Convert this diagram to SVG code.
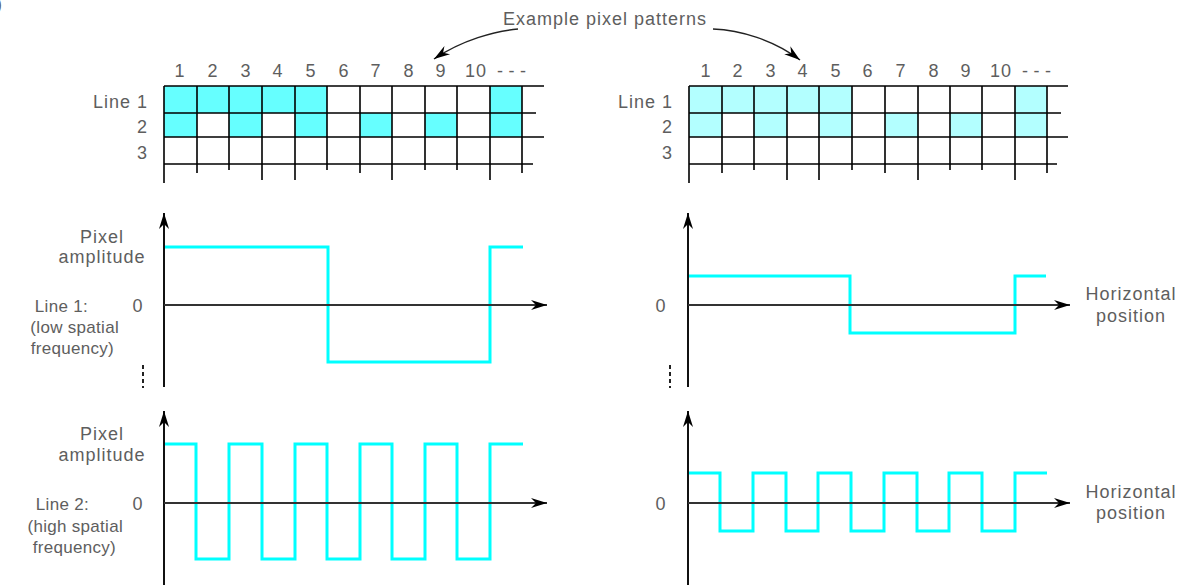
<svg xmlns="http://www.w3.org/2000/svg" width="1196" height="585" viewBox="0 0 1196 585">
<style>
text{font-family:"Liberation Sans",Arial,sans-serif;font-size:18px;fill:#5e5e5e;letter-spacing:1px}
.m{text-anchor:middle}
.e{text-anchor:end}
.s{font-size:17px;letter-spacing:0.3px}
.g{stroke:#000;stroke-width:1.6;fill:none}
.c1{fill:#66ffff}
.c2{fill:#b3ffff}
.ax{stroke:#333;stroke-width:1.8;fill:none}
.ay{stroke:#111;stroke-width:2;fill:none}
.sig{stroke:#00ffff;stroke-width:3;fill:none}
.dots{stroke:#222;stroke-width:2;stroke-dasharray:4 3;fill:none}
.lead{stroke:#222;stroke-width:1.5;fill:none}
</style>
<defs>
<marker id="ah" viewBox="-17 -6 18 12" markerWidth="18" markerHeight="12" refX="0" refY="0" orient="auto" markerUnits="userSpaceOnUse">
<path d="M0,0 L-16,-5 L-11,0 L-16,5 Z" fill="#000"/>
</marker>
</defs>
<rect width="1196" height="585" fill="#fff"/>
<text x="-4" y="10">)</text>

<g id="title">
<text x="503" y="25">Example pixel patterns</text>
</g>

<g id="grid-left">
<g>
<rect class="c1" x="164" y="86" width="163" height="27"/>
<rect class="c1" x="490" y="86" width="32" height="27"/>
<rect class="c1" x="164" y="113" width="33" height="24"/>
<rect class="c1" x="229" y="113" width="33" height="24"/>
<rect class="c1" x="295" y="113" width="32" height="24"/>
<rect class="c1" x="360" y="113" width="32" height="24"/>
<rect class="c1" x="425" y="113" width="32" height="24"/>
<rect class="c1" x="490" y="113" width="32" height="24"/>
</g>
<path class="g" d="M164,86H544M164,113H536M164,137H544M164,164H533
M164,86V183M197,86V173M229,86V170M262,86V180M295,86V180M327,86V170M360,86V173M392,86V180M425,86V170M457,86V170M490,86V180M522,86V173"/>
<text class="m" x="180" y="77">1</text>
<text class="m" x="213" y="77">2</text>
<text class="m" x="246" y="77">3</text>
<text class="m" x="278" y="77">4</text>
<text class="m" x="311" y="77">5</text>
<text class="m" x="344" y="77">6</text>
<text class="m" x="376" y="77">7</text>
<text class="m" x="409" y="77">8</text>
<text class="m" x="441" y="77">9</text>
<text class="m" x="476" y="77">10</text>
<text x="497" y="77" textLength="30" lengthAdjust="spacing">---</text>
<text class="e" x="148" y="108">Line 1</text>
<text class="e" x="148" y="133">2</text>
<text class="e" x="148" y="159">3</text>
</g>

<g id="grid-right">
<g>
<rect class="c2" x="689" y="86" width="163" height="27"/>
<rect class="c2" x="1015" y="86" width="32" height="27"/>
<rect class="c2" x="689" y="113" width="33" height="24"/>
<rect class="c2" x="754" y="113" width="33" height="24"/>
<rect class="c2" x="819" y="113" width="33" height="24"/>
<rect class="c2" x="885" y="113" width="33" height="24"/>
<rect class="c2" x="950" y="113" width="32" height="24"/>
<rect class="c2" x="1015" y="113" width="32" height="24"/>
</g>
<path class="g" d="M689,86H1068M689,113H1061M689,137H1068M689,164H1057
M689,86V183M722,86V173M754,86V170M787,86V180M819,86V180M852,86V170M885,86V173M918,86V180M950,86V170M982,86V170M1015,86V180M1047,86V173"/>
<text class="m" x="706" y="77">1</text>
<text class="m" x="738" y="77">2</text>
<text class="m" x="771" y="77">3</text>
<text class="m" x="803" y="77">4</text>
<text class="m" x="836" y="77">5</text>
<text class="m" x="868" y="77">6</text>
<text class="m" x="901" y="77">7</text>
<text class="m" x="934" y="77">8</text>
<text class="m" x="966" y="77">9</text>
<text class="m" x="1001" y="77">10</text>
<text x="1022" y="77" textLength="30" lengthAdjust="spacing">---</text>
<text class="e" x="673" y="108">Line 1</text>
<text class="e" x="673" y="133">2</text>
<text class="e" x="673" y="159">3</text>
</g>

<g id="graph-line1-left">
<path class="sig" d="M164,247H328V362H490V247H523"/>
<text class="m" x="102" y="243">Pixel</text>
<text class="m" x="102" y="263">amplitude</text>
<text class="e s" x="88" y="312">Line 1:</text>
<text class="m" x="138" y="312">0</text>
<text class="e s" x="119" y="333">(low spatial</text>
<text class="e s" x="114" y="354">frequency)</text>
<path class="dots" d="M143,365V388"/>
</g>

<g id="graph-line1-right">
<path class="sig" d="M688,276H850V333H1015V276H1046"/>
<text class="m" x="661" y="312">0</text>
<text class="m" x="1131" y="300">Horizontal</text>
<text class="m" x="1131" y="322">position</text>
<path class="dots" d="M670,365V388"/>
</g>

<g id="graph-line2-left">
<path class="sig" d="M164,444H196V559H229V444H262V559H295V444H327V559H360V444H392V559H425V444H457V559H490V444H523"/>
<text class="m" x="102" y="440">Pixel</text>
<text class="m" x="102" y="461">amplitude</text>
<text class="e s" x="89" y="510">Line 2:</text>
<text class="m" x="138" y="510">0</text>
<text class="e s" x="123" y="532">(high spatial</text>
<text class="e s" x="116" y="553">frequency)</text>
</g>

<g id="graph-line2-right">
<path class="sig" d="M688,473H720V531H753V473H786V531H818V473H851V531H884V473H917V531H949V473H982V531H1015V473H1047"/>
<text class="m" x="661" y="510">0</text>
<text class="m" x="1131" y="498">Horizontal</text>
<text class="m" x="1131" y="519">position</text>
</g>

<g id="connectors">
<path class="ay" d="M164,387V213" marker-end="url(#ah)"/>
<path class="ax" d="M164,305H547" marker-end="url(#ah)"/>
<path class="ay" d="M688,387V213" marker-end="url(#ah)"/>
<path class="ax" d="M688,305H1070" marker-end="url(#ah)"/>
<path class="ay" d="M164,585V411" marker-end="url(#ah)"/>
<path class="ax" d="M164,503H547" marker-end="url(#ah)"/>
<path class="ay" d="M688,585V411" marker-end="url(#ah)"/>
<path class="ax" d="M688,503H1070" marker-end="url(#ah)"/>
<path class="lead" d="M518,29C495,31 462,40 434,59" marker-end="url(#ah)"/>
<path class="lead" d="M713,29C740,30 774,40 800,60" marker-end="url(#ah)"/>
</g>
</svg>
